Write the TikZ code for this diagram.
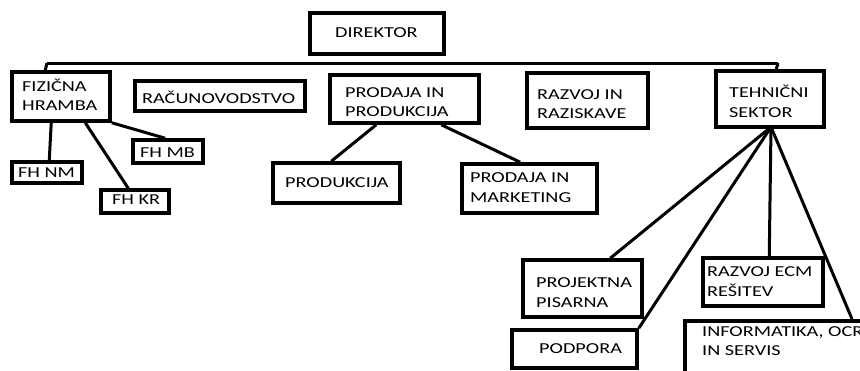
\documentclass[tikz,border=0pt]{standalone}
\usepackage{fontspec}
\setmainfont[FakeStretch=1.33]{Carlito}
\usetikzlibrary{calc}
\tikzset{
  box/.style={draw=black, line width=3.5pt, inner sep=0pt, fill=white},
  lbl/.style={anchor=west, align=left, inner sep=0pt, font=\fontsize{15.2}{19.5}\selectfont, text=black},
  conn/.style={draw=black, line width=3pt},
}
\begin{document}
\begin{tikzpicture}[x=1pt,y=-1pt]
\useasboundingbox (0,0) rectangle (860,370);
\clip (0,0) rectangle (860,370);
\fill[white] (0,0) rectangle (860,370);
\coordinate (busL) at (47,63);
\coordinate (busR) at (778,63);
\coordinate (tsc) at (771,127);
% boxes
\node[box, minimum width=134pt, minimum height=41pt] (dir) at (377,33.5) {};
\node[box, minimum width=98pt, minimum height=49pt] (fh) at (61,96.5) {};
\node[box, minimum width=170pt, minimum height=30pt] (rac) at (220,96) {};
\node[box, minimum width=149pt, minimum height=48pt] (pip) at (404.5,99) {};
\node[box, minimum width=121pt, minimum height=55pt] (rir) at (587.5,100.5) {};
\node[box, minimum width=108pt, minimum height=56pt] (ts) at (770,99) {};
\node[box, minimum width=70pt, minimum height=21pt] (fhnm) at (47,172.5) {};
\node[box, minimum width=68pt, minimum height=23pt] (fhkr) at (135,201.5) {};
\node[box, minimum width=70pt, minimum height=23pt] (fhmb) at (168,151.5) {};
\node[box, minimum width=127pt, minimum height=40pt] (prod) at (336.5,183) {};
\node[box, minimum width=135pt, minimum height=49pt] (pim) at (529.5,188.5) {};
\node[box, minimum width=119pt, minimum height=57pt] (pp) at (582.5,288.5) {};
\node[box, minimum width=120pt, minimum height=48pt] (recm) at (763,282) {};
\node[box, minimum width=125pt, minimum height=38pt] (podp) at (574.5,349) {};
\node[box, minimum width=220pt, minimum height=100pt, anchor=north west] (inf) at (683,319) {};
% connectors
\draw[conn] (busL) -- (busR);
\draw[conn] ($(dir.south west)+(69,0)$) -- ($(dir.south west)+(69,0)$ |- busL);
\draw[conn] (busL) -- ($(fh.north west)+(35,0)$);
\draw[conn] ($(rac.north west)+(81,0)$ |- busL) -- ($(rac.north west)+(81,0)$);
\draw[conn] ($(pip.north west)+(85,0)$ |- busL) -- ($(pip.north west)+(85,0)$);
\draw[conn] (busR) -- ($(ts.north west)+(62,0)$);
\draw[conn] ($(fh.south west)+(41,0)$) -- ($(fhnm.north west)+(39,0)$);
\draw[conn] ($(fh.south west)+(75,0)$) -- ($(fhkr.north west)+(29,0)$);
\draw[conn] (fh.south east) -- ($(fhmb.north west)+(34,0)$);
\draw[conn] ($(pip.south west)+(48,0)$) -- ($(prod.north west)+(60,0)$);
\draw[conn] ($(pip.south west)+(113,0)$) -- ($(pim.north west)+(60,0)$);
\draw[conn] (tsc) -- ($(pp.north west)+(89,0)$);
\draw[conn] (tsc) -- (podp.north east);
\draw[conn] (tsc) -- ($(recm.north west)+(68,0)$);
\draw[conn] (tsc) -- ($(inf.north west)+(169,0)$);
% texts
\node[lbl] (tdir) at (335,33) {DIREKTOR};
\node[lbl] (tfh) at (22,95) {FIZIČNA\\HRAMBA};
\node[lbl] (trac) at (142,97) {RAČUNOVODSTVO};
\node[lbl] (tpip) at (345,102) {PRODAJA IN\\PRODUKCIJA};
\node[lbl] (trir) at (537,104) {RAZVOJ IN\\RAZISKAVE};
\node[lbl] (tts) at (729,101.5) {TEHNIČNI\\SEKTOR};
\node[lbl] (tfhnm) at (18,173) {FH NM};
\node[lbl] (tfhkr) at (112,200) {FH KR};
\node[lbl] (tfhmb) at (140,153) {FH MB};
\node[lbl] (tprod) at (285,183) {PRODUKCIJA};
\node[lbl] (tpim) at (470,187.5) {PRODAJA IN\\MARKETING};
\node[lbl] (tpp) at (536,292.5) {PROJEKTNA\\PISARNA};
\node[lbl] (trecm) at (707,281.5) {RAZVOJ ECM\\REŠITEV};
\node[lbl] (tpodp) at (539,349) {PODPORA};
\node[lbl] (tinf) at (702,341) {INFORMATIKA, OCR\\IN SERVIS};
\end{tikzpicture}
\end{document}
